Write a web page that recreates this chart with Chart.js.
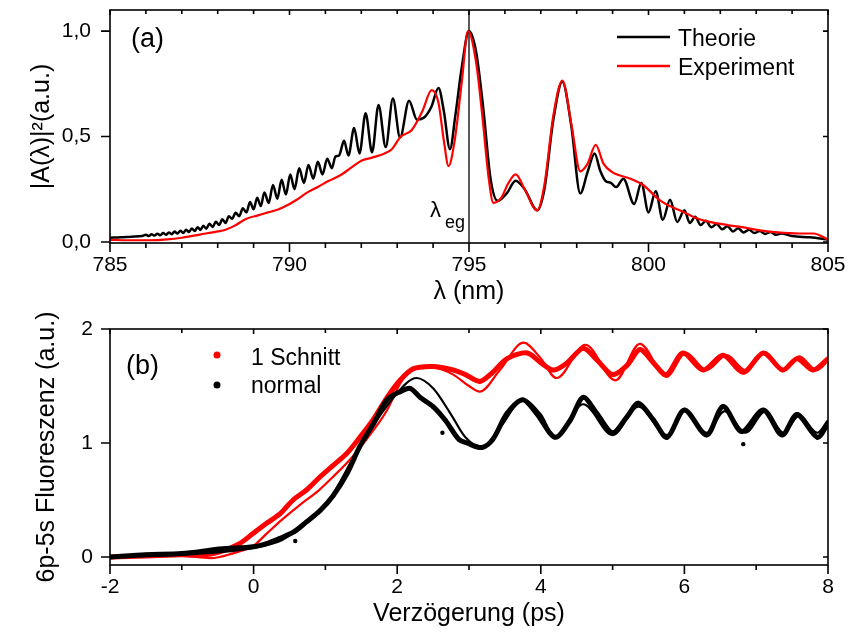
<!DOCTYPE html>
<html>
<head>
<meta charset="utf-8">
<title>Spektrum und Fluoreszenz</title>
<script src="https://cdn.jsdelivr.net/npm/chart.js@4"></script>
<style>
  body { margin: 0; background: #fff; }
  .wrap { position: relative; width: 850px; height: 639px; }
  canvas { position: absolute; left: 0; }
  #chartA { top: 0; }
  #chartB { top: 310px; }
</style>
</head>
<body>
<div class="wrap">
  <canvas id="chartA" width="850" height="310"></canvas>
  <canvas id="chartB" width="850" height="329"></canvas>
</div>
<script>
// ---- panel (a): spectrum ----
const lambdaTheorie = [785.0, 785.3, 785.6, 785.9, 786.0, 786.08, 786.16, 786.24, 786.32, 786.40, 786.48, 786.56,
  786.64, 786.72, 786.80, 786.88, 786.96, 787.04, 787.12, 787.20, 787.28, 787.36, 787.44, 787.52, 787.60, 787.68,
  787.77, 787.86, 787.95, 788.04, 788.13, 788.22, 788.31, 788.40, 788.50, 788.60, 788.70, 788.80, 788.90, 789.00,
  789.10, 789.20, 789.30, 789.42, 789.54, 789.66, 789.78, 789.90, 790.02, 790.14, 790.27, 790.40, 790.53, 790.66,
  790.79, 790.92, 791.05, 791.18, 791.28, 791.38, 791.52, 791.64, 791.80, 791.95, 792.12, 792.30, 792.48, 792.68,
  792.88, 793.08, 793.33, 793.55, 793.75, 793.95, 794.15, 794.30, 794.47, 794.62, 794.80, 795.00, 795.20, 795.40,
  795.60, 795.80, 796.05, 796.30, 796.55, 796.90, 797.10, 797.35, 797.60, 797.85, 798.10, 798.30, 798.50, 798.65,
  798.80, 798.95, 799.10, 799.30, 799.60, 799.80, 800.00, 800.20, 800.40, 800.60, 800.80, 801.00, 801.15, 801.30,
  801.45, 801.60, 801.75, 801.90, 802.05, 802.20, 802.35, 802.50, 802.65, 802.80, 802.95, 803.10, 803.25, 803.40,
  803.55, 803.70, 804.00, 804.50, 805.00];
const theorie = [0.020, 0.022, 0.025, 0.028, 0.034, 0.028, 0.036, 0.030, 0.039, 0.032, 0.042, 0.034,
  0.045, 0.037, 0.049, 0.040, 0.053, 0.043, 0.058, 0.047, 0.064, 0.052, 0.070, 0.057, 0.077, 0.063,
  0.086, 0.071, 0.096, 0.080, 0.108, 0.090, 0.122, 0.110, 0.138, 0.122, 0.160, 0.140, 0.190, 0.155,
  0.210, 0.170, 0.235, 0.185, 0.270, 0.205, 0.295, 0.225, 0.320, 0.250, 0.350, 0.280, 0.365, 0.300,
  0.380, 0.320, 0.395, 0.350, 0.405, 0.410, 0.480, 0.410, 0.540, 0.420, 0.610, 0.425, 0.650, 0.450,
  0.680, 0.495, 0.670, 0.580, 0.590, 0.640, 0.730, 0.620, 0.440, 0.600, 0.830, 1.000, 0.900, 0.630,
  0.300, 0.195, 0.230, 0.290, 0.250, 0.150, 0.250, 0.580, 0.760, 0.550, 0.230, 0.330, 0.420, 0.340,
  0.290, 0.280, 0.260, 0.300, 0.180, 0.280, 0.140, 0.240, 0.105, 0.200, 0.095, 0.150, 0.090, 0.120,
  0.080, 0.100, 0.070, 0.085, 0.060, 0.075, 0.050, 0.065, 0.045, 0.058, 0.042, 0.052, 0.038, 0.047,
  0.034, 0.040, 0.028, 0.022, 0.012];

const lambdaExp = [785.0, 785.5, 786.1, 786.6, 787.0, 787.5, 788.0, 788.2, 788.45, 788.8, 789.1, 789.4, 789.7,
  789.95, 790.2, 790.5, 790.8, 791.1, 791.45, 791.7, 792.0, 792.3, 792.65, 792.85, 793.1, 793.4, 793.7, 793.96,
  794.15, 794.3, 794.43, 794.6, 794.8, 794.97, 795.2, 795.37, 795.55, 795.68, 795.9, 796.1, 796.3, 796.55, 796.9,
  797.1, 797.35, 797.6, 797.85, 798.1, 798.3, 798.53, 798.75, 799.0, 799.5, 799.85, 800.3, 800.6, 801.0, 801.3,
  801.7, 802.2, 802.6, 803.1, 803.6, 804.2, 804.6, 804.85, 805.0];
const experiment = [0.010, 0.008, 0.008, 0.012, 0.020, 0.035, 0.050, 0.057, 0.075, 0.110, 0.125, 0.140, 0.155,
  0.175, 0.200, 0.235, 0.262, 0.290, 0.320, 0.350, 0.385, 0.400, 0.420, 0.440, 0.500, 0.530, 0.620, 0.720,
  0.660, 0.480, 0.360, 0.480, 0.760, 1.000, 0.850, 0.600, 0.300, 0.185, 0.210, 0.280, 0.320, 0.250, 0.150,
  0.270, 0.600, 0.765, 0.560, 0.335, 0.370, 0.460, 0.370, 0.330, 0.300, 0.270, 0.200, 0.170, 0.140, 0.115,
  0.095, 0.080, 0.070, 0.055, 0.045, 0.040, 0.040, 0.025, 0.010];

const lambdaEg = 795;
const xTicksA = [785, 790, 795, 800, 805];
const xMinorA = [786, 787, 788, 789, 791, 792, 793, 794, 796, 797, 798, 799, 801, 802, 803, 804];
const yTicksA = [0, 0.5, 1.0];
const yLabelsA = ['0,0', '0,5', '1,0'];
const yRangeA = [-0.005, 1.1];

// ---- panel (b): fluorescence vs delay ----
const tSchnitt = [-2.0, -1.5, -1.0, -0.75, -0.47, -0.19, 0.0, 0.19, 0.37, 0.55, 0.74, 0.92, 1.10, 1.30, 1.48,
  1.66, 1.86, 2.04, 2.22, 2.50, 2.78, 2.95, 3.15, 3.33, 3.53, 3.81, 3.99, 4.17, 4.36, 4.59, 4.78, 5.00, 5.20,
  5.38, 5.56, 5.75, 5.98, 6.26, 6.54, 6.82, 7.10, 7.37, 7.57, 7.79, 8.00];
const schnitt = [0.00, 0.01, 0.02, 0.015, 0.045, 0.12, 0.21, 0.30, 0.38, 0.50, 0.59, 0.70, 0.80, 0.91, 1.05,
  1.20, 1.40, 1.55, 1.65, 1.67, 1.64, 1.60, 1.54, 1.62, 1.74, 1.79, 1.71, 1.64, 1.70, 1.83, 1.73, 1.60, 1.68,
  1.82, 1.71, 1.60, 1.79, 1.64, 1.77, 1.62, 1.79, 1.64, 1.74, 1.64, 1.74];
const tSchnittFit = [-2.0, -1.0, -0.6, -0.3, 0.0, 0.19, 0.4, 0.65, 0.9, 1.1, 1.35, 1.57, 1.86, 2.04, 2.2, 2.5,
  2.78, 3.0, 3.15, 3.43, 3.76, 3.99, 4.22, 4.62, 5.04, 5.38, 5.75, 6.02, 6.31, 6.59, 6.85, 7.13, 7.38, 7.6,
  7.84, 8.0];
const schnittFit = [0.00, 0.01, -0.01, 0.03, 0.10, 0.21, 0.33, 0.46, 0.58, 0.70, 0.86, 1.03, 1.29, 1.52, 1.64,
  1.66, 1.60, 1.50, 1.45, 1.64, 1.88, 1.75, 1.57, 1.86, 1.55, 1.87, 1.58, 1.79, 1.64, 1.77, 1.64, 1.79, 1.64,
  1.76, 1.64, 1.72];

const tNormal = [-2.0, -1.5, -1.0, -0.47, 0.0, 0.19, 0.37, 0.56, 0.74, 0.93, 1.11, 1.30, 1.48, 1.67, 1.86, 2.04,
  2.18, 2.32, 2.50, 2.67, 2.86, 2.97, 3.18, 3.33, 3.53, 3.75, 3.94, 4.20, 4.41, 4.59, 4.78, 5.00, 5.20, 5.36,
  5.57, 5.76, 6.00, 6.31, 6.54, 6.80, 7.10, 7.36, 7.57, 7.85, 8.00];
const normal = [0.00, 0.02, 0.03, 0.07, 0.09, 0.12, 0.165, 0.22, 0.31, 0.41, 0.54, 0.73, 0.97, 1.17, 1.38, 1.45,
  1.48, 1.40, 1.32, 1.20, 1.03, 1.00, 0.96, 1.03, 1.26, 1.38, 1.26, 1.05, 1.20, 1.40, 1.26, 1.09, 1.23, 1.35,
  1.20, 1.05, 1.29, 1.07, 1.32, 1.10, 1.29, 1.07, 1.25, 1.05, 1.17];
const tNormalFit = [-2.0, -1.0, 0.0, 0.4, 0.56, 1.0, 1.48, 1.95, 2.27, 2.5, 2.74, 2.95, 3.18, 3.45, 3.75, 4.0,
  4.2, 4.59, 5.0, 5.36, 5.76, 6.0, 6.31, 6.56, 6.85, 7.13, 7.38, 7.6, 7.85, 8.0];
const normalFit = [0.00, 0.02, 0.08, 0.15, 0.22, 0.45, 0.97, 1.40, 1.57, 1.48, 1.26, 1.05, 0.96, 1.15, 1.38, 1.25,
  1.05, 1.34, 1.07, 1.32, 1.07, 1.29, 1.09, 1.28, 1.09, 1.28, 1.09, 1.24, 1.09, 1.20];
const tNormalOut = [0.58, 2.63, 6.82];
const normalOut = [0.14, 1.09, 0.99];

const xTicksB = [-2, 0, 2, 4, 6, 8];
const xMinorB = [-1, 1, 3, 5, 7];
const yTicksB = [0, 1, 2];
const yRangeB = [-0.07, 2.0];

const FONT = "'Liberation Sans', Arial, sans-serif";
const pts = (xs, ys) => xs.map((x, i) => ({ x, y: ys[i] }));

function framePlugin(cfg) {
  return {
    id: 'frame',
    afterDatasetsDraw(chart) {
      const { ctx, chartArea: a, scales: { x, y } } = chart;
      ctx.save();
      ctx.strokeStyle = '#000';
      ctx.lineWidth = 1.6;
      ctx.strokeRect(a.left, a.top, a.right - a.left, a.bottom - a.top);
      ctx.beginPath();
      cfg.xMinor.forEach(v => {
        const p = x.getPixelForValue(v);
        ctx.moveTo(p, a.bottom); ctx.lineTo(p, a.bottom + 5);
        ctx.moveTo(p, a.top); ctx.lineTo(p, a.top + 4);
      });
      cfg.xMajor.forEach(v => {
        const p = x.getPixelForValue(v);
        ctx.moveTo(p, a.bottom); ctx.lineTo(p, a.bottom + 9);
        ctx.moveTo(p, a.top); ctx.lineTo(p, a.top + 5);
      });
      cfg.yMajor.forEach(v => {
        const p = y.getPixelForValue(v);
        ctx.moveTo(a.left, p); ctx.lineTo(a.left - 9, p);
        ctx.moveTo(a.right, p); ctx.lineTo(a.right - 5, p);
      });
      ctx.stroke();
      ctx.fillStyle = '#000';
      ctx.textBaseline = 'alphabetic';
      cfg.extra(ctx, chart);
      ctx.restore();
    }
  };
}

function axis(min, max, tickVals, labelFn, opts) {
  return {
    type: 'linear', min, max,
    grid: { display: false, drawTicks: false },
    border: { display: false },
    afterBuildTicks: s => { s.ticks = tickVals.map(v => ({ value: v })); },
    afterFit: s => {
      opts.fit(s);
      // keep the plot box fixed: no extra room for half labels
      s.paddingTop = 0; s.paddingBottom = 0; s.paddingLeft = 0; s.paddingRight = 0;
    },
    ticks: {
      color: '#000', font: { family: FONT, size: 21 }, padding: opts.pad, maxRotation: 0,
      callback: v => labelFn(v)
    },
    title: {
      display: true, text: opts.title, color: '#000',
      font: { family: FONT, size: 25 }, padding: opts.titlePad
    }
  };
}

// panel (a)
new Chart(document.getElementById('chartA'), {
  type: 'line',
  data: {
    datasets: [
      { data: pts(lambdaExp, experiment), borderColor: '#ff0000', borderWidth: 2.2,
        pointRadius: 0, cubicInterpolationMode: 'monotone' },
      { data: pts(lambdaTheorie, theorie), borderColor: '#000000', borderWidth: 2.5,
        pointRadius: 0, cubicInterpolationMode: 'monotone' },
      { data: pts([lambdaEg, lambdaEg], yRangeA), borderColor: '#000000', borderWidth: 1.3, pointRadius: 0 }
    ]
  },
  options: {
    responsive: false, animation: false,
    layout: { padding: { left: 0, right: 22, top: 10, bottom: 0 } },
    plugins: { legend: { display: false }, tooltip: { enabled: false } },
    scales: {
      x: axis(785, 805, xTicksA, v => String(v), {
        fit: s => { s.height = 67; }, pad: 10, title: 'λ (nm)', titlePad: { top: 0, bottom: 3 }
      }),
      y: axis(yRangeA[0], yRangeA[1], yTicksA, v => yLabelsA[yTicksA.indexOf(v)], {
        fit: s => { s.width = 110; }, pad: 19, title: '|A(λ)|²(a.u.)', titlePad: { top: 27, bottom: 0 }
      })
    }
  },
  plugins: [framePlugin({
    xMajor: xTicksA, xMinor: xMinorA, yMajor: yTicksA,
    extra(ctx, chart) {
      const x = chart.scales.x;
      ctx.font = '27px ' + FONT;
      ctx.fillText('(a)', 131, 47);
      // lambda_eg label next to the vertical line
      const px = x.getPixelForValue(lambdaEg);
      ctx.font = '22px ' + FONT;
      ctx.fillText('λ', px - 39, 217);
      ctx.font = '18px ' + FONT;
      ctx.fillText('eg', px - 24, 228);
      // legend
      ctx.lineWidth = 2.5;
      ctx.strokeStyle = '#000';
      ctx.beginPath(); ctx.moveTo(617, 37); ctx.lineTo(670, 37); ctx.stroke();
      ctx.strokeStyle = '#ff0000';
      ctx.beginPath(); ctx.moveTo(617, 66); ctx.lineTo(670, 66); ctx.stroke();
      ctx.font = '23px ' + FONT;
      ctx.fillText('Theorie', 678, 45.5);
      ctx.fillText('Experiment', 678, 74.5);
    }
  })]
});

// panel (b)
new Chart(document.getElementById('chartB'), {
  type: 'line',
  data: {
    datasets: [
      { data: pts(tNormalFit, normalFit), borderColor: '#000000', borderWidth: 2.2,
        pointRadius: 0, cubicInterpolationMode: 'monotone' },
      { data: pts(tNormal, normal), borderColor: '#000000', backgroundColor: '#000000', borderWidth: 5,
        pointRadius: 2.2, pointBorderWidth: 0, tension: 0.3 },
      { data: pts(tNormalOut, normalOut), showLine: false, backgroundColor: '#000000',
        pointRadius: 2.2, pointBorderWidth: 0 },
      { data: pts(tSchnittFit, schnittFit), borderColor: '#ff0000', borderWidth: 2.2,
        pointRadius: 0, cubicInterpolationMode: 'monotone' },
      { data: pts(tSchnitt, schnitt), borderColor: '#ff0000', backgroundColor: '#ff0000', borderWidth: 5,
        pointRadius: 2.2, pointBorderWidth: 0, tension: 0.3 }
    ]
  },
  options: {
    responsive: false, animation: false,
    layout: { padding: { left: 0, right: 22, top: 19, bottom: 0 } },
    plugins: { legend: { display: false }, tooltip: { enabled: false } },
    scales: {
      x: axis(-2, 8, xTicksB, v => String(v), {
        fit: s => { s.height = 74; }, pad: 10, title: 'Verzögerung (ps)', titlePad: { top: 0, bottom: 10 }
      }),
      y: axis(yRangeB[0], yRangeB[1], yTicksB, v => String(v), {
        fit: s => { s.width = 110; }, pad: 17, title: '6p-5s Fluoreszenz (a.u.)', titlePad: { top: 32, bottom: 0 }
      })
    }
  },
  plugins: [framePlugin({
    xMajor: xTicksB, xMinor: xMinorB, yMajor: yTicksB,
    extra(ctx) {
      ctx.font = '27px ' + FONT;
      ctx.fillText('(b)', 126, 64);
      ctx.fillStyle = '#ff0000';
      ctx.beginPath(); ctx.arc(217, 45, 3.5, 0, Math.PI * 2); ctx.fill();
      ctx.fillStyle = '#000';
      ctx.beginPath(); ctx.arc(217, 75, 3.5, 0, Math.PI * 2); ctx.fill();
      ctx.font = '23px ' + FONT;
      ctx.fillText('1 Schnitt', 251, 55);
      ctx.fillText('normal', 251, 83);
    }
  })]
});
</script>
</body>
</html>
